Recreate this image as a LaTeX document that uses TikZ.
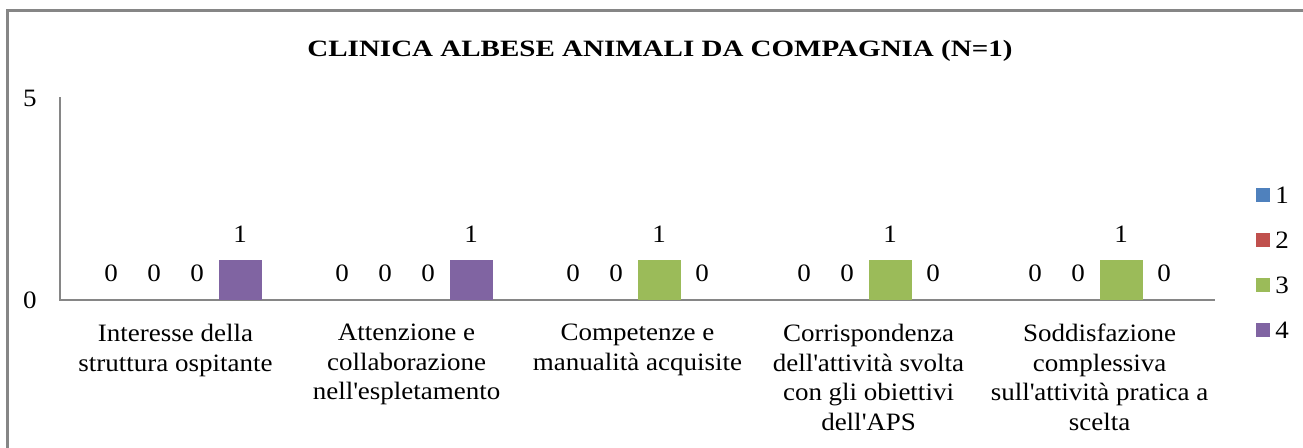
\documentclass[tikz,border=0pt]{standalone}
\usepackage{fontspec}
\setmainfont{Liberation Serif}[FakeStretch=1.08]
\newfontfamily\titlefont{Liberation Serif}[FakeStretch=1.24]
\definecolor{c1}{HTML}{4F81BD}
\definecolor{c2}{HTML}{C0504D}
\definecolor{c3}{HTML}{9BBB59}
\definecolor{c4}{HTML}{8064A2}
\definecolor{axisgray}{HTML}{868686}
\newcommand{\q}{\textquotesingle}
\tikzset{
  val/.style={inner sep=0pt, font=\fontsize{25}{29}\selectfont},
  cat/.style={inner sep=0pt, align=center, anchor=north, font=\fontsize{25}{29.5}\selectfont},
  ttl/.style={inner sep=0pt, anchor=base, font=\titlefont\bfseries\fontsize{23.4}{28}\selectfont},
  axisline/.style={draw=axisgray, line width=1.3pt},
  frameline/.style={draw=axisgray, line width=3pt},
}
\begin{document}
\begin{tikzpicture}[x=1pt,y=-1pt]
\fill[white] (0,0) rectangle (1303,447);
\useasboundingbox (0,0) rectangle (1303,447);
% outer frame (cut on right and bottom)
\draw[frameline] (7.5,448) -- (7.5,10.5) -- (1304,10.5);
% title
\node[ttl] (title) at (660,56) {CLINICA ALBESE ANIMALI DA COMPAGNIA (N=1)};
% axes
\coordinate (ytop) at (60,97);
\coordinate (orig) at (60,300);
\coordinate (xend) at (1215,300);
\draw[axisline] (ytop) -- (orig) -- (xend);
\node[val] (t5) at (30,98) {5};
\node[val] (t0) at (30,300) {0};
% bars and data labels
\foreach \g/\hi in {1/4,2/4,3/3,4/3,5/3}{
  \pgfmathsetmacro\cx{175.5+231*(\g-1)}
  \foreach \j in {1,...,4}{
    \pgfmathsetmacro\bx{\cx-64.5+43*(\j-1)}
    \ifnum\j=\hi
      \fill[c\j] (\bx-21.5,260) rectangle (\bx+21.5,299.5);
      \node[val] (v\g\j) at (\bx,234) {1};
    \else
      \node[val] (v\g\j) at (\bx,273) {0};
    \fi
  }
}
% category labels
\node[cat] (k1) at (175.5,324) {Interesse della\\struttura ospitante};
\node[cat] (k2) at (406.5,324) {Attenzione e\\collaborazione\\nell\q espletamento};
\node[cat] (k3) at (637.5,324) {Competenze e\\manualità acquisite};
\node[cat] (k4) at (868.5,324) {Corrispondenza\\dell\q attività svolta\\con gli obiettivi\\dell\q APS};
\node[cat] (k5) at (1099.5,324) {Soddisfazione\\complessiva\\sull\q attività pratica a\\scelta};
% legend
\foreach \j in {1,...,4}{
  \pgfmathsetmacro\ly{195+45*(\j-1)}
  \fill[c\j] (1256,\ly-7) rectangle (1270,\ly+7);
  \node[val] (leg\j) at (1282,\ly) {\j};
}
\end{tikzpicture}
\end{document}
